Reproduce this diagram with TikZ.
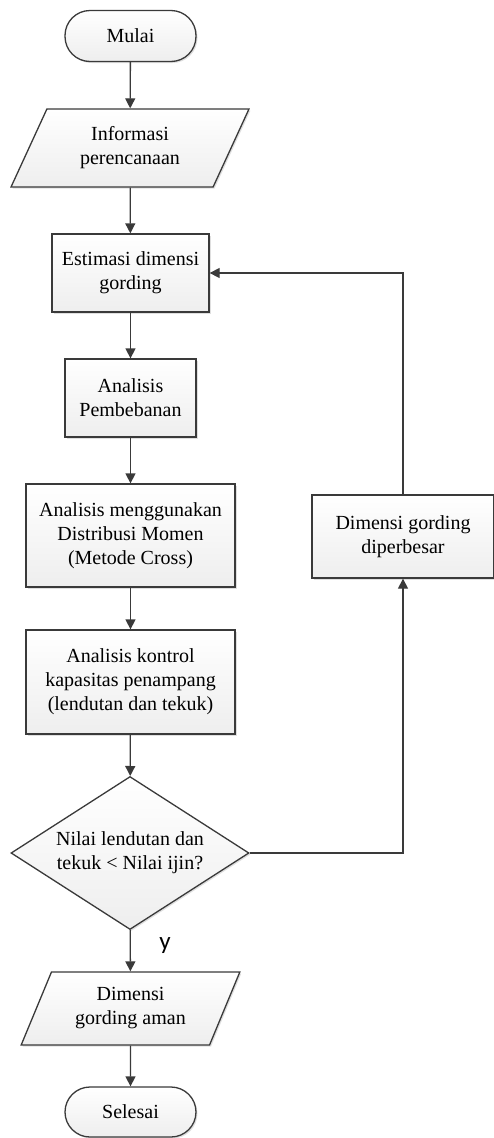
\documentclass[tikz,border=0pt]{standalone}
\usepackage{fontspec}
\setmainfont{Liberation Serif}
\newfontfamily\labelfont{Carlito}
\definecolor{flowline}{HTML}{3A3A3A}
\definecolor{flowfill}{HTML}{EEEEEE}
\usetikzlibrary{arrows.meta,shapes.geometric,shadows}
\tikzset{
    flowbase/.style={
        draw=flowline,
        top color=white,
        bottom color=flowfill,
        line width=1.3pt,
        inner sep=0pt,
        align=center,
        drop shadow={shadow xshift=1.5pt,shadow yshift=-1.5pt,opacity=0.25},
        font=\fontsize{20}{24}\selectfont
    },
    flowterminal/.style={
        flowbase,
        rectangle,
        rounded corners=25pt,
        minimum width=131pt,
        minimum height=51pt
    },
    flowprocess/.style={
        flowbase,
        rectangle,
        minimum height=78pt
    },
    flowdata/.style={
        flowbase,
        trapezium,
        trapezium left angle=63,
        trapezium right angle=117,
        trapezium stretches=true
    },
    flowdecision/.style={
        flowbase,
        diamond,
        aspect=1.55,
        minimum width=238pt,
        minimum height=153pt
    },
    flowarrow/.style={
        -{Triangle[length=10pt,width=10pt]},
        draw=flowline,
        line width=1.3pt
    }
}

\begin{document}
\begin{tikzpicture}[x=1pt,y=1pt]
    \useasboundingbox (0,0) rectangle (494,-1138);

    \node[flowterminal] (mulai) at (130.5,-36) {Mulai};
    \node[flowdata,minimum width=238pt,minimum height=78pt]
        (informasi) at (130,-148) {Informasi\\perencanaan};
    \node[flowprocess,minimum width=157pt] (estimasi) at (130.5,-273)
        {Estimasi dimensi\\gording};
    \node[flowprocess,minimum width=131pt] (pembebanan) at (130.5,-398)
        {Analisis\\Pembebanan};
    \node[flowprocess,minimum width=209pt,minimum height=103pt]
        (distribusi) at (130.5,-535.5)
        {Analisis menggunakan\\Distribusi Momen\\(Metode Cross)};
    \node[flowprocess,minimum width=209pt,minimum height=104pt]
        (kontrol) at (130.5,-682)
        {Analisis kontrol\\kapasitas penampang\\(lendutan dan tekuk)};
    \node[flowdecision] (keputusan) at (130,-853)
        {Nilai lendutan dan\\tekuk < Nilai ijin?};
    \node[flowdata,minimum width=219pt,minimum height=73pt]
        (aman) at (130.5,-1008.5) {Dimensi\\gording aman};
    \node[flowterminal,minimum height=50pt] (selesai) at (130.5,-1112)
        {Selesai};
    \node[flowprocess,minimum width=182pt,minimum height=83pt]
        (diperbesar) at (403,-536.5) {Dimensi gording\\diperbesar};

    \draw[flowarrow] (mulai) -- (informasi);
    \draw[flowarrow] (informasi) -- (estimasi);
    \draw[flowarrow] (estimasi) -- (pembebanan);
    \draw[flowarrow] (pembebanan) -- (distribusi);
    \draw[flowarrow] (distribusi) -- (kontrol);
    \draw[flowarrow] (kontrol) -- (keputusan);
    \draw[flowarrow] (keputusan) --
        node[right=25pt,pos=0.38,font=\labelfont\fontsize{25}{26}\selectfont]{y} (aman);
    \draw[flowarrow] (aman) -- (selesai);
    \draw[flowarrow] (keputusan.east) -| (diperbesar.south);
    \draw[flowarrow] (diperbesar.north) |- (estimasi.east);
\end{tikzpicture}
\end{document}
